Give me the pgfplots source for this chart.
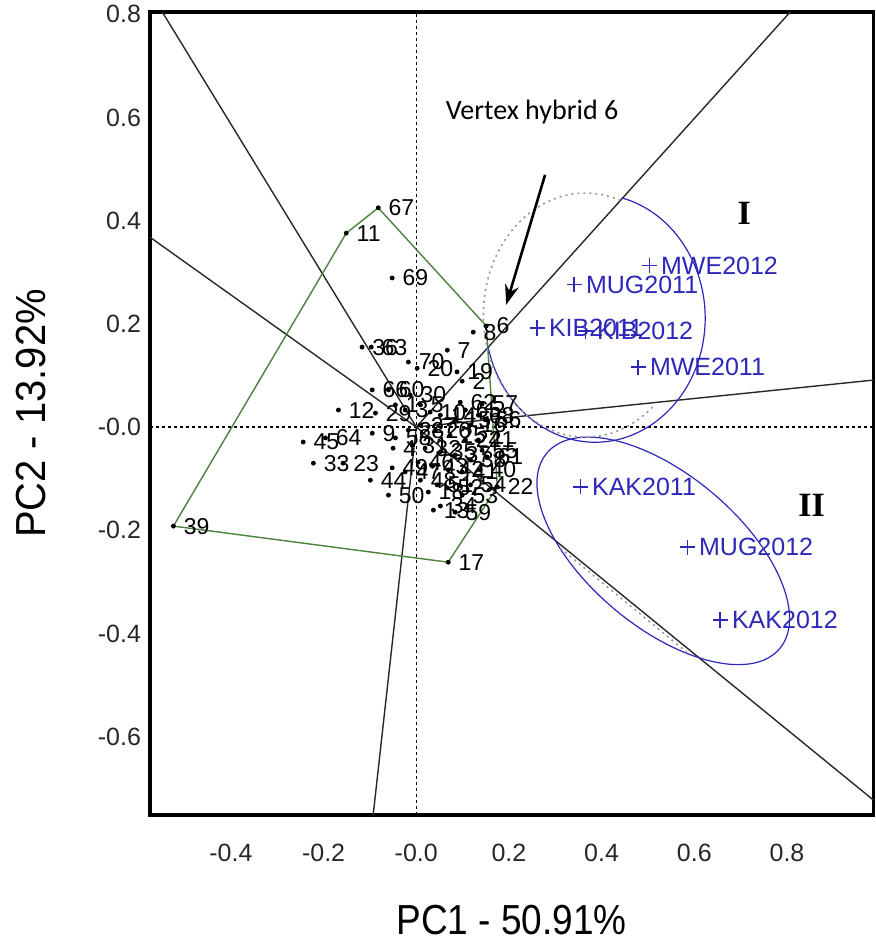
\documentclass[border=0pt]{standalone}
\usepackage{pgfplots}
\usepackage{pgfplotstable}
\usepackage{fontspec}
\pgfplotsset{compat=1.18}
\usetikzlibrary{arrows.meta}
\setmainfont{Liberation Sans}
\newfontfamily\carlito{Carlito}
\newfontfamily\timesf{Liberation Serif}

\definecolor{envblue}{RGB}{45,40,185}
\definecolor{polygreen}{RGB}{75,130,60}
\definecolor{raygray}{RGB}{40,40,40}
\definecolor{dotgray}{RGB}{150,150,150}

% hybrid scores (PC1, PC2)
\pgfplotstableread{
x y lab
-0.045 0.043 1
0.099 0.089 2
-0.024 0.033 3
-0.050 -0.041 4
0.009 0.043 5
0.151 0.196 6
0.067 0.149 7
0.123 0.184 8
-0.095 -0.012 9
0.030 0.029 10
-0.151 0.376 11
-0.168 0.033 12
0.037 -0.161 13
0.052 0.023 14
0.084 0.014 15
0.117 0.004 16
0.069 -0.262 17
0.026 -0.126 18
0.088 0.107 19
0.002 0.114 20
0.134 -0.025 21
0.175 -0.116 22
-0.158 -0.070 23
0.106 -0.025 24
0.073 -0.016 25
0.041 -0.006 26
0.009 0.004 27
-0.017 -0.006 28
-0.088 0.027 29
-0.013 0.062 30
-0.009 -0.035 31
0.019 -0.041 32
-0.222 -0.070 33
0.052 -0.153 34
0.052 -0.048 35
-0.117 0.155 36
0.084 -0.054 37
0.117 -0.064 38
-0.524 -0.192 39
0.138 -0.083 40
0.099 -0.087 41
0.069 -0.083 42
0.035 -0.076 43
-0.099 -0.103 44
-0.244 -0.029 45
0.004 -0.068 46
-0.024 -0.087 47
0.009 -0.103 48
-0.052 -0.079 49
-0.060 -0.132 50
0.045 -0.112 51
0.067 -0.118 52
0.099 -0.132 53
0.117 -0.112 54
0.142 -0.045 55
0.149 0.014 56
0.142 0.045 57
-0.045 -0.021 58
0.084 -0.165 59
-0.060 0.072 60
0.153 -0.058 61
0.095 0.048 62
-0.097 0.155 63
-0.196 -0.021 64
0.106 0.033 65
-0.095 0.072 66
-0.082 0.425 67
0.134 0.023 68
-0.052 0.289 69
-0.017 0.126 70
}\hybrids

% environment scores
\pgfplotstableread{
x y lab
0.503 0.313 MWE2012
0.341 0.276 MUG2011
0.261 0.192 KIB2011
0.365 0.186 KIB2012
0.479 0.116 MWE2011
0.354 -0.116 KAK2011
0.585 -0.233 MUG2012
0.656 -0.374 KAK2012
}\envs

\begin{document}
\begin{tikzpicture}
\begin{axis}[
  scale only axis,
  width=361.6pt, height=401.4pt,
  xmin=-0.5745, xmax=0.9864,
  ymin=-0.752, ymax=0.8046,
  axis line style={line width=1.6pt, black},
  xtick={-0.4,-0.2,0,0.2,0.4,0.6,0.8},
  xticklabels={-0.4,-0.2,-0.0,0.2,0.4,0.6,0.8},
  ytick={-0.6,-0.4,-0.2,0,0.2,0.4,0.6,0.8},
  yticklabels={-0.6,-0.4,-0.2,-0.0,0.2,0.4,0.6,0.8},
  major tick length=0pt,
  /pgf/number format/assume math mode=true,
  tick label style={font=\fontsize{12.5}{14}\selectfont, text=black!85},
  xticklabel style={yshift=-11pt},
  yticklabel style={xshift=-1pt},
  clip=false,
]

% reference axes through the origin
\addplot[black, dash pattern=on 1.6pt off 1.4pt, line width=0.65pt] coordinates {(0,-0.752) (0,0.8046)};
\addplot[black, dash pattern=on 1.6pt off 1.4pt, line width=0.65pt] coordinates {(-0.5745,0) (0.9864,0)};

% rays from the origin, perpendicular to the polygon sides
\addplot[raygray, line width=0.7pt] coordinates {(0,0) (-0.548,0.8046)};
\addplot[raygray, line width=0.7pt] coordinates {(0,0) (-0.5745,0.368)};
\addplot[raygray, line width=0.7pt] coordinates {(0,0) (-0.093,-0.752)};
\addplot[raygray, line width=0.7pt] coordinates {(0,0) (0.9864,-0.723)};
\addplot[raygray, line width=0.7pt] coordinates {(0,0) (0.9864,0.091)};
\addplot[raygray, line width=0.7pt] coordinates {(0,0) (0.807,0.8046)};

% polygon joining the vertex hybrids
\addplot[polygreen, line width=0.7pt] coordinates {
  (-0.082,0.425) (0.151,0.196) (0.175,-0.116) (0.069,-0.262)
  (-0.524,-0.192) (-0.151,0.376) (-0.082,0.425)};

% hybrids
\addplot[only marks, mark=*, mark size=1pt, black,
  nodes near coords, point meta=explicit symbolic,
  every node near coord/.append style={anchor=west, inner sep=0pt,
    xshift=5pt, font=\fontsize{11.5}{12}\selectfont, text=black}]
  table[meta=lab] {\hybrids};

% environments
\addplot[only marks, mark=+, mark size=3.8pt, envblue,
  mark options={line width=0.8pt},
  nodes near coords, point meta=explicit symbolic,
  every node near coord/.append style={anchor=west, inner sep=0pt,
    xshift=5.5pt, font=\fontsize{12.5}{14}\selectfont, text=envblue}]
  table[meta=lab] {\envs};

% mega-environment outlines
\draw[envblue, line width=0.6pt] (axis cs:0.386,0.211) ++(76:55pt and 62pt)
  arc [start angle=76, end angle=-167, x radius=55pt, y radius=62pt];
\draw[envblue, line width=0.6pt, rotate around={-40:(axis cs:0.533,-0.240)}]
  (axis cs:0.533,-0.240) ellipse [x radius=76pt, y radius=38pt];
\draw[dotgray, dash pattern=on 1pt off 2pt, line width=0.8pt] (axis cs:0.365,0.217) ++(70:51pt and 61pt)
  arc [start angle=70, end angle=311, x radius=51pt, y radius=61pt];
\draw[dotgray, dash pattern=on 1pt off 2pt, line width=0.8pt] (axis cs:0.311,-0.235) -- (axis cs:0.591,-0.442);

% annotations
\node[font=\carlito\fontsize{14}{16}\selectfont] at (axis cs:0.250,0.611) {Vertex hybrid 6};
\draw[line width=1.3pt, -{Stealth[length=10pt,width=7pt]}] (axis cs:0.278,0.489) -- (axis cs:0.194,0.237);
\node[font=\timesf\bfseries\fontsize{17}{19}\selectfont] at (axis cs:0.708,0.415) {I};
\node[font=\timesf\bfseries\fontsize{17}{19}\selectfont] at (axis cs:0.853,-0.151) {II};
\end{axis}

% axis titles
\node[anchor=north, inner sep=0pt, font=\fontsize{21}{24}\selectfont]
  at ([yshift=-45pt]current axis.south) {\scalebox{0.88}[1]{PC1 - 50.91\%}};
\node[rotate=90, inner sep=0pt, font=\fontsize{21}{24}\selectfont]
  at ([xshift=-59.5pt]current axis.west) {\scalebox{0.95}[1]{PC2 - 13.92\%}};

\pgfresetboundingbox
\path[use as bounding box] ([xshift=-75pt,yshift=-63pt]current axis.south west)
  rectangle ([xshift=1pt,yshift=6pt]current axis.north east);
\end{tikzpicture}
\end{document}
